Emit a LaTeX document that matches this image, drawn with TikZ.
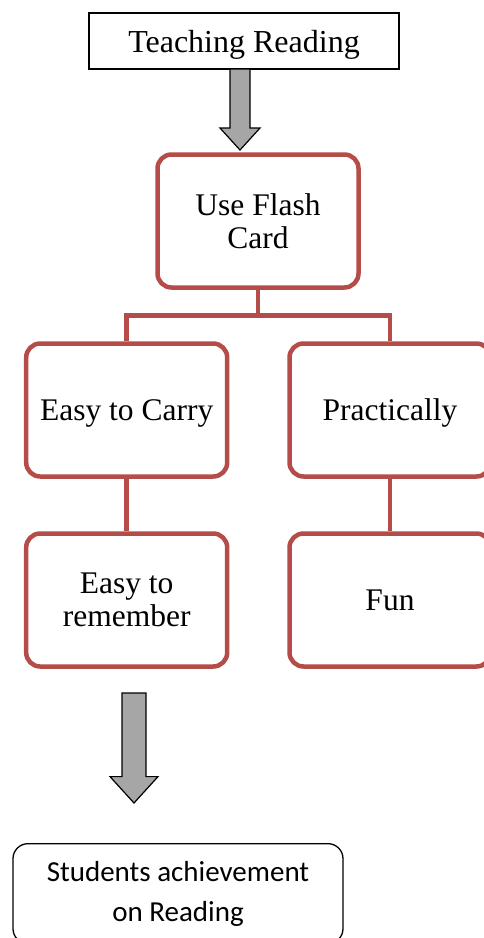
\documentclass[tikz,border=0pt]{standalone}
\usepackage{fontspec}
\setmainfont{Liberation Serif}
\newfontfamily\calibri{Carlito}
\usepackage{tikz}
\usetikzlibrary{calc}
\definecolor{cardred}{RGB}{180,77,74}
\definecolor{arrowgray}{RGB}{166,166,166}
\tikzset{
  card/.style={draw=cardred, line width=4.5pt, rounded corners=14pt,
    minimum width=201pt, minimum height=133pt, inner sep=0pt, align=center,
    font=\fontsize{31.5}{33}\selectfont},
  link/.style={draw=cardred, line width=4.5pt},
  bigarrow/.style={draw=black, fill=arrowgray, line width=1.2pt},
}
\newcommand{\blockarrow}[3][1]{
  % grey block arrow pointing down
  % parameter 1 (optional): width factor
  % parameter 2: coordinate at the middle of the tail
  % parameter 3: coordinate of the tip
  \draw[bigarrow] let \p1=(#2), \p2=(#3) in
    (\x1-10pt*#1,\y1) -- (\x1+10pt*#1,\y1) -- (\x1+10pt*#1,\y2+22pt*#1)
    -- (\x1+20pt*#1,\y2+22pt*#1) -- (\x2,\y2) -- (\x1-20pt*#1,\y2+22pt*#1)
    -- (\x1-10pt*#1,\y2+22pt*#1) -- cycle;
}
\begin{document}
\begin{tikzpicture}[x=1pt,y=-1pt]
    \useasboundingbox (0,0) rectangle (484,938);
    \clip (0,0) rectangle (484,938);
    \node[draw, line width=1.3pt, minimum width=310pt, minimum height=56pt,
      inner sep=0pt, text depth=0pt, font=\fontsize{32}{33}\selectfont] (teach)
      at (244,41) {Teaching Reading};
    \node[card] (flash) at (258,221) {Use Flash\\Card};
    \foreach \n/\x/\t in {carry/126.7/Easy to Carry, prac/390/Practically} {
      \node[card, text depth=0pt] (\n) at (\x,410) {\t};
    }
    \foreach \n/\x/\t in {remember/126.7/{Easy to\\remember}, fun/390/Fun} {
      \node[card] (\n) at (\x,600) {\t};
    }
    \node[draw, line width=1.3pt, rounded corners=15pt, minimum width=330pt,
      minimum height=100pt, anchor=north, align=center,
      font=\calibri\fontsize{29}{40}\selectfont] (result) at (178,843)
      {Students achievement\\on Reading};
    % tree of links
    \coordinate (fork) at (258,315.5);
    \draw[link] (flash.south) -- (fork);
    \draw[link] (carry.north) |- (fork) -| (prac.north);
    \foreach \a/\b in {carry/remember, prac/fun} {
      \draw[link] (\a) -- (\b);
    }
    % grey arrows
    \coordinate (tailA) at (240,69);
    \coordinate (tipA) at (240,150);
    \coordinate (tailB) at (134,693);
    \coordinate (tipB) at (134,803);
    \blockarrow{tailA}{tipA}
    \blockarrow[1.2]{tailB}{tipB}
\end{tikzpicture}
\end{document}
